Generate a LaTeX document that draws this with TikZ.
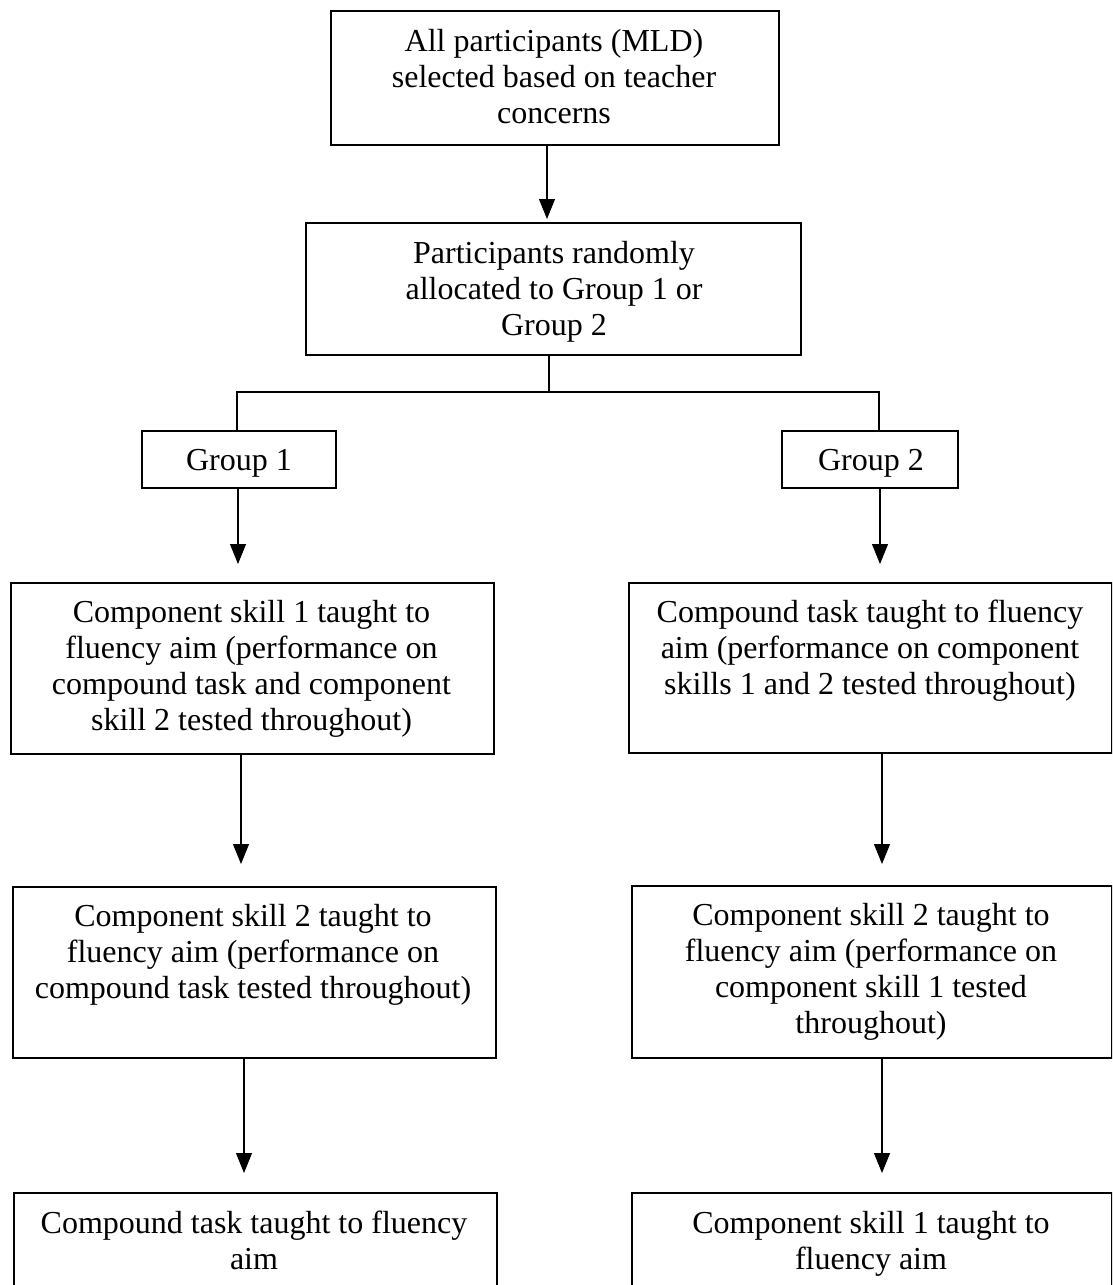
\documentclass[tikz,border=0pt]{standalone}
\usepackage{fontspec}
\setmainfont{Liberation Serif}
\usetikzlibrary{arrows.meta}
\begin{document}
\begin{tikzpicture}[x=1pt,y=-1pt,
  box/.style={draw, line width=1.7pt, rectangle, inner sep=0pt, anchor=north west},
  txt/.style={inner sep=0pt, anchor=base, font=\fontsize{32}{36}\selectfont},
  conn/.style={line width=1.1pt},
  arr/.style={line width=1.1pt, -{Triangle[length=20pt,width=16pt]}}]
\useasboundingbox (0,0) rectangle (1112,1285);
\clip (0,0) rectangle (1112,1285);
% boxes
\node[box, minimum width=448pt, minimum height=134pt] (b1) at (330,10) {};
\node[box, minimum width=495pt, minimum height=132pt] (b2) at (305,222) {};
\node[box, minimum width=194pt, minimum height=57pt] (g1) at (141,430) {};
\node[box, minimum width=176pt, minimum height=57pt] (g2) at (781,430) {};
\node[box, minimum width=483pt, minimum height=171pt] (l1) at (10,582) {};
\node[box, minimum width=483pt, minimum height=170pt] (r1) at (628,582) {};
\node[box, minimum width=483pt, minimum height=171pt] (l2) at (12,886) {};
\node[box, minimum width=480pt, minimum height=172pt] (r2) at (631,885) {};
\node[box, minimum width=483pt, minimum height=140pt] (l3) at (13,1192) {};
\node[box, minimum width=480pt, minimum height=140pt] (r3) at (631,1192) {};
% texts
\node[txt] (b1t) at (554,51) {\parbox[t]{440pt}{\centering All participants (MLD)\\ selected based on teacher\\ concerns}};
\node[txt] (b2t) at (554,263) {\parbox[t]{480pt}{\centering Participants randomly\\ allocated to Group 1 or\\ Group 2}};
\node[txt] (g1t) at (239,470) {Group 1};
\node[txt] (g2t) at (871,470) {Group 2};
\node[txt] (l1t) at (251.5,622) {\parbox[t]{480pt}{\centering Component skill 1 taught to\\ fluency aim (performance on\\ compound task and component\\ skill 2 tested throughout)}};
\node[txt] (r1t) at (870,622) {\parbox[t]{480pt}{\centering Compound task taught to fluency\\ aim (performance on component\\ skills 1 and 2 tested throughout)}};
\node[txt] (l2t) at (253,926) {\parbox[t]{480pt}{\centering Component skill 2 taught to\\ fluency aim (performance on\\ compound task tested throughout)}};
\node[txt] (r2t) at (871,925) {\parbox[t]{480pt}{\centering Component skill 2 taught to\\ fluency aim (performance on\\ component skill 1 tested\\ throughout)}};
\node[txt] (l3t) at (254,1233) {\parbox[t]{480pt}{\centering Compound task taught to fluency\\ aim}};
\node[txt] (r3t) at (871,1233) {\parbox[t]{480pt}{\centering Component skill 1 taught to\\ fluency aim}};
% connector coordinates
\coordinate (t2) at (547,219);
\coordinate (fork) at (549,392);
\coordinate (jL) at (237,392);
\coordinate (jR) at (879,392);
\coordinate (tl1) at (238,564);
\coordinate (tr1) at (880,564);
\coordinate (tl2) at (241,864);
\coordinate (tr2) at (882,864);
\coordinate (tl3) at (244,1173);
\coordinate (tr3) at (882,1173);
% connectors
\draw[arr] (b1.south -| t2) -- (t2);
\draw[conn] (b2.south -| fork) -- (fork);
\draw[conn] (g1.north -| jL) -- (jL) -- (jR) -- (g2.north -| jR);
\draw[arr] (g1.south -| tl1) -- (tl1);
\draw[arr] (g2.south -| tr1) -- (tr1);
\draw[arr] (l1.south -| tl2) -- (tl2);
\draw[arr] (r1.south -| tr2) -- (tr2);
\draw[arr] (l2.south -| tl3) -- (tl3);
\draw[arr] (r2.south -| tr3) -- (tr3);
\end{tikzpicture}
\end{document}
